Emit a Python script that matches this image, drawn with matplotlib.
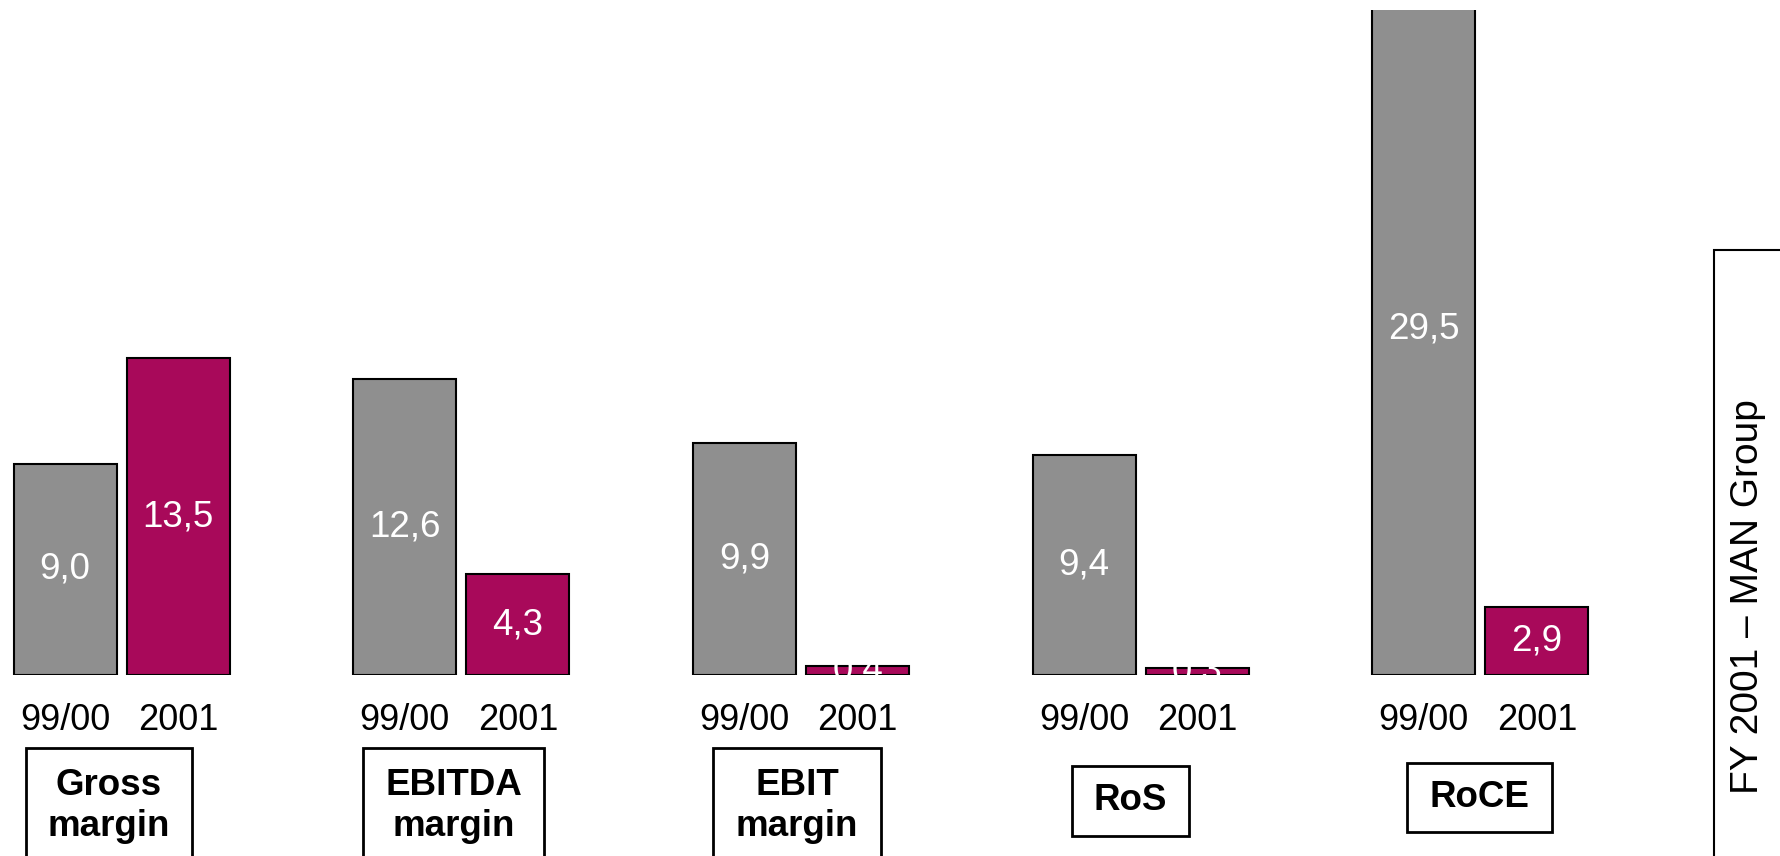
import matplotlib
matplotlib.use("Agg")
import matplotlib.pyplot as plt
from matplotlib.patches import Rectangle

plt.rcParams['font.family'] = ['Liberation Sans', 'DejaVu Sans']

# data
categories = ['Gross\nmargin', 'EBITDA\nmargin', 'EBIT\nmargin', 'RoS', 'RoCE']
periods = ['99/00', '2001']
vals_9900 = [9.0, 12.6, 9.9, 9.4, 29.5]
vals_2001 = [13.5, 4.3, 0.4, 0.3, 2.9]

W, H = 1780, 856
GREY = '#8f8f8f'
MAGENTA = '#a8095a'

fig = plt.figure(figsize=(W / 100, H / 100), dpi=100)

def fx(px):
    return px / W

def fy(py):
    return 1 - py / H

# axes placed in pixel coords: left 0, right 1700, top 10, bottom 675
ax = fig.add_axes([0, fy(675), fx(1700), fy(10) - fy(675)])
ax.set_xlim(-0.575, 14.44)
ax.set_ylim(0, 28.35)

pos_a = [3 * i for i in range(len(categories))]
pos_b = [3 * i + 1 for i in range(len(categories))]
bw = 0.91

ax.bar(pos_a, vals_9900, width=bw, color=GREY, edgecolor='black', linewidth=1.5)
ax.bar(pos_b, vals_2001, width=bw, color=MAGENTA, edgecolor='black', linewidth=1.5)

for p, v in list(zip(pos_a, vals_9900)) + list(zip(pos_b, vals_2001)):
    ax.text(p, v / 2, f'{v:.1f}'.replace('.', ','), color='white', fontsize=26.5,
            ha='center', va='center', clip_on=True)

ticks = []
labels = []
for a, b in zip(pos_a, pos_b):
    ticks += [a, b]
    labels += periods
ax.set_xticks(ticks, labels, fontsize=26)
ax.tick_params(axis='x', length=0, pad=20)
ax.set_yticks([])
for s in ax.spines.values():
    s.set_visible(False)

# category boxes (pixel layout: x0, x1, y_top, y_bottom)
boxes = [(26, 192, 748, 880), (363, 544, 748, 880), (713, 881, 748, 880),
         (1072, 1189, 766, 836), (1407, 1552, 763, 832)]
for name, (x0, x1, y0, y1) in zip(categories, boxes):
    fig.patches.append(Rectangle((fx(x0), fy(y1)), fx(x1) - fx(x0), fy(y0) - fy(y1),
                                 transform=fig.transFigure, fill=False,
                                 edgecolor='black', linewidth=2))
    yc = (y0 + y1) / 2 if '\n' not in name else 806
    fig.text(fx((x0 + x1) / 2), fy(yc), name, ha='center', va='center',
             fontsize=26.5, fontweight='bold', linespacing=1.2)

# side box
fig.patches.append(Rectangle((fx(1714), fy(880)), fx(100), fy(250) - fy(880),
                             transform=fig.transFigure, fill=False,
                             edgecolor='black', linewidth=1.5))
fig.text(fx(1748), fy(597), 'FY 2001 \u2013 MAN Group', rotation=90,
         ha='center', va='center', fontsize=28)

fig.savefig('out.png', dpi=100)
